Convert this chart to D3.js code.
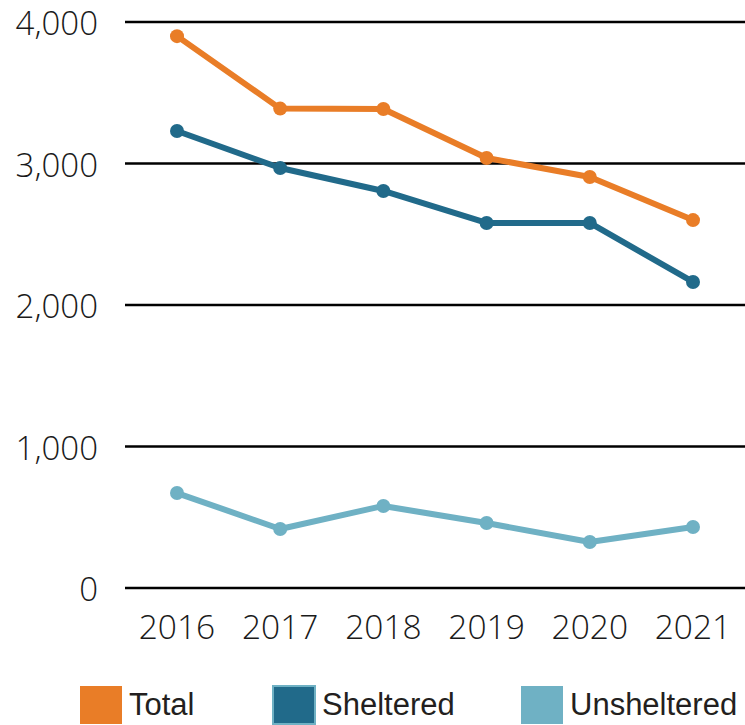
<!DOCTYPE html>
<html><head><meta charset="utf-8">
<script src="https://cdn.jsdelivr.net/npm/d3@7"></script>
<style>body{margin:0;background:#fff}svg{display:block}</style>
</head><body>
<svg id="c" width="745" height="725"></svg>
<script>
const years = ["2016","2017","2018","2019","2020","2021"];
const total = [3900, 3388, 3385, 3039, 2905, 2600];
const sheltered = [3230, 2968, 2806, 2580, 2580, 2163];
const unsheltered = [671, 417, 580, 459, 325, 431];
const yTicks = [0, 1000, 2000, 3000, 4000];
const seriesNames = ["Total", "Sheltered", "Unsheltered"];
const colors = ["#E97D27", "#216A8A", "#6FB1C4"];

const svg = d3.select("#c");
const x = d3.scalePoint().domain(years).range([177, 693]);
const y = d3.scaleLinear().domain([0, 4000]).range([588, 22]);

// gridlines
svg.append("g").selectAll("line").data(yTicks).join("line")
  .attr("x1", 125).attr("x2", 745)
  .attr("y1", d => y(d)).attr("y2", d => y(d))
  .attr("stroke", "#000").attr("stroke-width", 2.5);

// y labels
svg.append("g").selectAll("text").data(yTicks).join("text")
  .attr("x", 98).attr("y", d => y(d) + 13)
  .attr("text-anchor", "end")
  .style("font-family", "'Open Sans', sans-serif").style("font-weight", 300)
  .style("font-size", "33px").attr("fill", "#1a1a1a")
  .text(d => d3.format(",")(d));

// x labels
svg.append("g").selectAll("text").data(years).join("text")
  .attr("x", d => x(d)).attr("y", 639)
  .attr("text-anchor", "middle")
  .style("font-family", "'Open Sans', sans-serif").style("font-weight", 300)
  .style("font-size", "33.5px").attr("fill", "#1a1a1a")
  .text(d => d);

const data = [total, sheltered, unsheltered];
const line = d3.line().x((d, i) => x(years[i])).y(d => y(d));
data.forEach((s, k) => {
  svg.append("path").datum(s).attr("d", line)
    .attr("fill", "none").attr("stroke", colors[k]).attr("stroke-width", 6)
    .attr("stroke-linejoin", "round");
  svg.append("g").selectAll("circle").data(s).join("circle")
    .attr("cx", (d, i) => x(years[i])).attr("cy", d => y(d)).attr("r", 7)
    .attr("fill", colors[k]);
});

// legend
const legX = [80, 273, 521];
const lg = svg.append("g");
seriesNames.forEach((n, k) => {
  lg.append("rect").attr("x", legX[k]).attr("y", 686).attr("width", 42).attr("height", 38)
    .attr("fill", colors[k])
    .attr("stroke", k === 1 ? "#6FB1C4" : "none").attr("stroke-width", k === 1 ? 2 : 0);
  lg.append("text").attr("x", legX[k] + 49).attr("y", 715)
    .style("font-family", "'Liberation Sans', Arial, sans-serif")
    .style("font-size", "31px").attr("fill", "#231f20")
    .text(n);
});
</script>
</body></html>
